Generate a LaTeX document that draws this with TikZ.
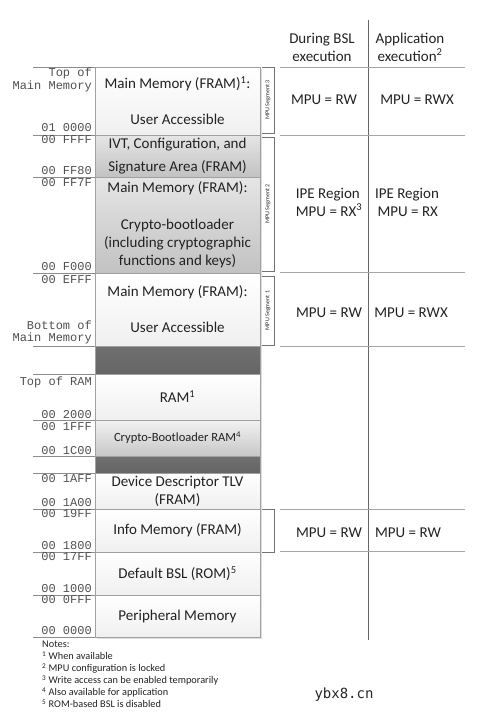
\documentclass[tikz,border=0pt]{standalone}
\usepackage{fontspec}
\setmainfont{Carlito}
\newfontfamily\addrfont{Liberation Mono}
\newfontfamily\markfont{DejaVu Sans Mono}
\usepackage{tikz}
\usetikzlibrary{arrows.meta, calc, positioning, shadows}

\definecolor{boxline}{HTML}{A0A0A0}
\definecolor{darkgap}{HTML}{707070}
\definecolor{addrgray}{HTML}{505050}
\definecolor{inkgray}{HTML}{222222}

\begin{document}
\begin{tikzpicture}[x=1pt,y=-1pt,font=\fontsize{15}{18}\selectfont,
  membox/.style={draw=boxline, minimum width=165pt, inner sep=0pt, align=center, text=inkgray,
    top color=white, bottom color=black!6, drop shadow={shadow xshift=1.5pt, shadow yshift=-1.5pt, opacity=0.25}},
  graybox/.style={membox, top color=black!10, bottom color=black!24},
  gapbox/.style={membox, top color=darkgap, bottom color=darkgap!90!black},
  addr/.style={anchor=east, inner sep=0pt, text=addrgray, font=\addrfont\fontsize{12}{13}\selectfont},
  sepline/.style={draw=black!45, thin},
  rowline/.style={draw=black!35, thin},
  colline/.style={draw=black!60, thin},
  segtag/.style={inner sep=0pt, minimum width=11pt, font=\fontsize{6}{7}\selectfont, text=inkgray},
  cell/.style={align=left, text=inkgray, inner sep=0pt}]
  \useasboundingbox (0,0) rectangle (491,725);

  \node[membox, minimum height=68pt] (mainthree) at (177.5,101) {Main Memory (FRAM)\textsuperscript{1}:\\[18pt]User Accessible};
  \node[graybox, minimum height=42pt] (ivt) at (177.5,156) {IVT, Configuration, and\\[5pt]Signature Area (FRAM)};
  \node[graybox, minimum height=96pt] (cryptobl) at (177.5,225) {Main Memory (FRAM):\\[19pt]Crypto-bootloader\\(including cryptographic\\functions and keys)};
  \node[membox, minimum height=73pt] (mainone) at (177.5,309.5) {Main Memory (FRAM):\\[18pt]User Accessible};
  \node[gapbox, minimum height=28pt] (gapone) at (177.5,360) {};
  \node[membox, minimum height=46pt] (ram) at (177.5,397) {RAM\textsuperscript{1}};
  \node[membox, top color=black!5, bottom color=black!22, minimum height=36pt, font=\fontsize{12.5}{15}\selectfont] (cbram) at (177.5,438) {Crypto-Bootloader RAM\textsuperscript{4}};
  \node[gapbox, minimum height=17pt] (gaptwo) at (177.5,464.5) {};
  \node[membox, minimum height=36pt] (devdesc) at (177.5,491) {Device Descriptor TLV\\(FRAM)};
  \node[membox, minimum height=43pt] (info) at (177.5,530.5) {Info Memory (FRAM)};
  \node[membox, minimum height=43pt] (bsl) at (177.5,573.5) {Default BSL (ROM)\textsuperscript{5}};
  \node[membox, minimum height=42pt] (periph) at (177.5,616) {Peripheral Memory};

  \foreach \n in {mainthree,ivt,cryptobl,mainone,gapone,ram,cbram,gaptwo,devdesc,info,bsl,periph}
    \draw[sepline] (\n.north west) -- ++(-62,0);
  \draw[sepline] (periph.south west) -- ++(-62,0);

  \foreach \y/\t [count=\i] in {73/Top of, 86/Main Memory, 128/01 0000, 140/00 FFFF, 171/00 FF80, 183/00 FF7F,
      267/00 F000, 280/00 EFFF, 325/Bottom of, 338/Main Memory, 382/Top of RAM, 415/00 2000, 427/00 1FFF,
      451/00 1C00, 479/00 1AFF, 503/00 1A00, 514/00 19FF, 546/00 1800, 557/00 17FF, 589/00 1000,
      600/00 0FFF, 631/00 0000}
    \node[addr] (addr\i) at (92,\y) {\t};

  \node[segtag, minimum height=66pt] (segthree) at (268,100) {\rotatebox{90}{MPU Segment 3}};
  \node[segtag, minimum height=134pt] (segtwo) at (268,204) {\rotatebox{90}{MPU Segment 2}};
  \node[segtag, minimum height=69pt] (segone) at (268,310.5) {\rotatebox{90}{MPU Segment 1}};
  \node[segtag, minimum height=43pt] (seginfo) at (268,530.5) {};
  \foreach \s in {segthree,segtwo,segone,seginfo}
    \draw[black!55] (\s.north west) -| (\s.south east) -- (\s.south west);

  \draw[colline] (368,20) -- (368,640);
  \foreach \y in {67,135,272,346,509,551}
    \draw[rowline] (280,\y) -- (465,\y);

  \node[align=center, text=inkgray] (hdrbsl) at (322,47) {During BSL\\execution};
  \node[align=center, text=inkgray] (hdrapp) at (410,47) {Application\\execution\textsuperscript{2}};

  \node[cell] (bslthree) at (324,100) {MPU = RW};
  \node[cell] (appthree) at (417,100) {MPU = RWX};
  \node[cell] (bsltwo) at (329,202) {IPE Region\\MPU = RX\textsuperscript{3}};
  \node[cell] (apptwo) at (407,202) {IPE Region\\\,MPU = RX};
  \node[cell] (bslone) at (329,313) {MPU = RW};
  \node[cell] (appone) at (411,313) {MPU = RWX};
  \node[cell] (bslinfo) at (329,533) {MPU = RW};
  \node[cell] (appinfo) at (408,533) {MPU = RW};

  \node[anchor=north west, align=left, inner sep=0pt, text=inkgray, font=\fontsize{10.3}{12}\selectfont] (notes) at (42,641)
    {Notes:\\
     \textsuperscript{1} When available\\
     \textsuperscript{2} MPU configuration is locked\\
     \textsuperscript{3} Write access can be enabled temporarily\\
     \textsuperscript{4} Also available for application\\
     \textsuperscript{5} ROM-based BSL is disabled};

  \node[font=\markfont\fontsize{14}{16}\selectfont, text=black!85, inner sep=0pt] (mark) at (344,695) {ybx8.cn};
\end{tikzpicture}
\end{document}
